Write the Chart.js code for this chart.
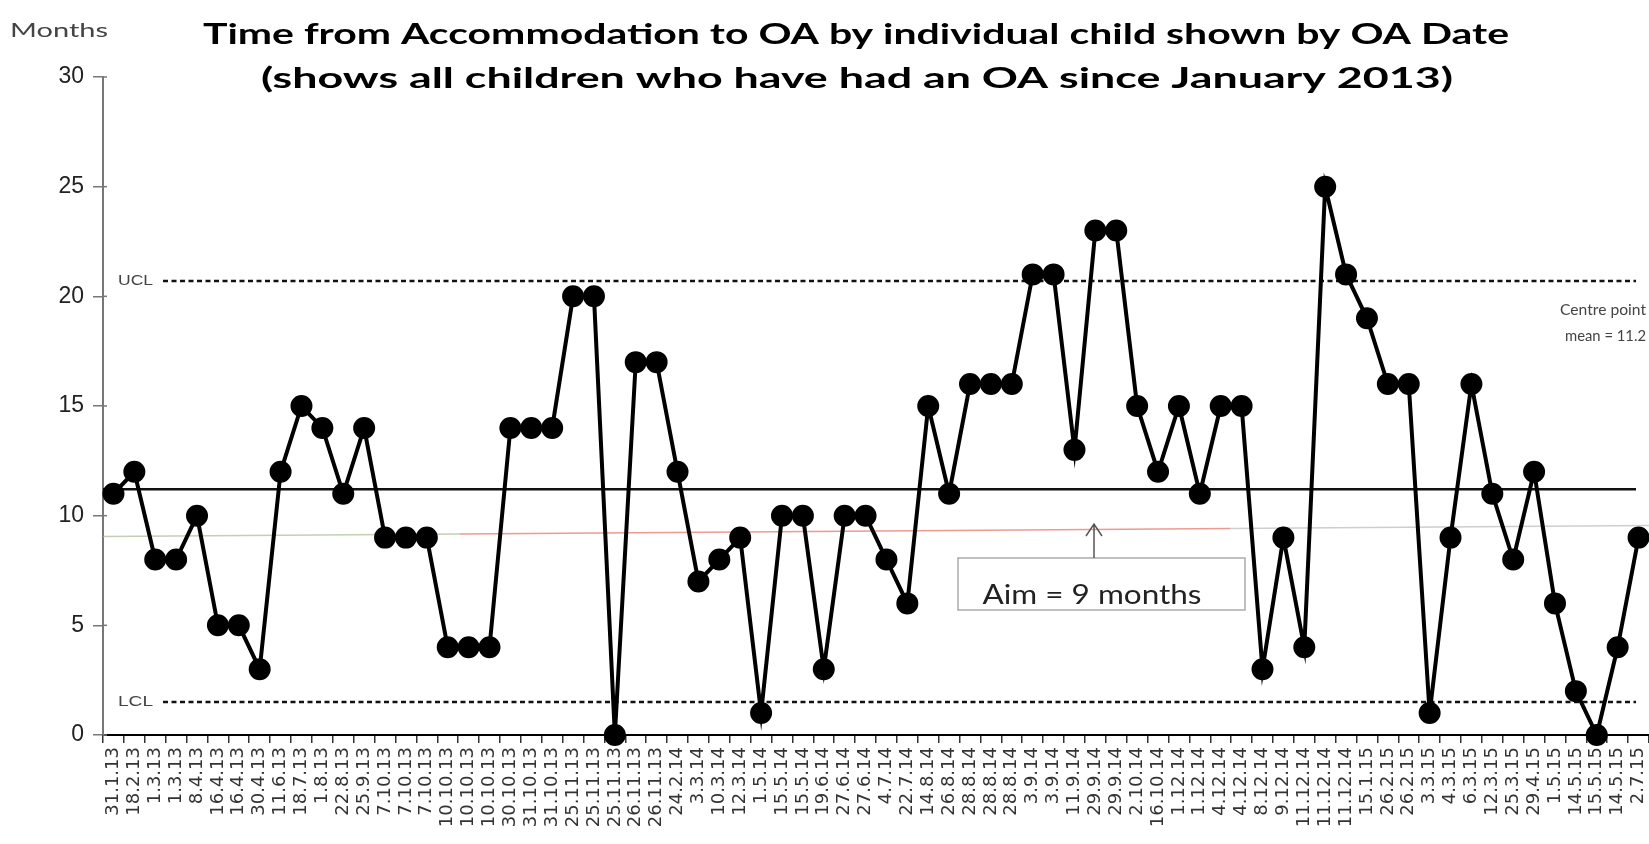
<!DOCTYPE html>
<html>
<head>
<meta charset="utf-8">
<script src="https://cdn.jsdelivr.net/npm/chart.js@4.4.1/dist/chart.umd.min.js"></script>
<style>
  html, body { margin: 0; padding: 0; background: #fff; overflow: hidden; }
  #wrap { position: relative; width: 1649px; height: 844px; }
</style>
</head>
<body>
<div id="wrap"><canvas id="c" width="1649" height="844"></canvas></div>
<script>
// OA dates (x categories), one per child
const oaDates = [
  "31.1.13", "18.2.13", "1.3.13", "1.3.13", "8.4.13", "16.4.13", "16.4.13", "30.4.13", "11.6.13", "18.7.13",
  "1.8.13", "22.8.13", "25.9.13", "7.10.13", "7.10.13", "7.10.13", "10.10.13", "10.10.13", "10.10.13", "30.10.13",
  "31.10.13", "31.10.13", "25.11.13", "25.11.13", "25.11.13", "26.11.13", "26.11.13", "24.2.14", "3.3.14", "10.3.14",
  "12.3.14", "1.5.14", "15.5.14", "15.5.14", "19.6.14", "27.6.14", "27.6.14", "4.7.14", "22.7.14", "14.8.14",
  "26.8.14", "28.8.14", "28.8.14", "28.8.14", "3.9.14", "3.9.14", "11.9.14", "29.9.14", "29.9.14", "2.10.14",
  "16.10.14", "1.12.14", "1.12.14", "4.12.14", "4.12.14", "8.12.14", "9.12.14", "11.12.14", "11.12.14", "11.12.14",
  "15.1.15", "26.2.15", "26.2.15", "3.3.15", "4.3.15", "6.3.15", "12.3.15", "25.3.15", "29.4.15", "1.5.15",
  "14.5.15", "15.5.15", "14.5.15", "2.7.15"
];

// months from accommodation to OA
const months = [
  11, 12, 8, 8, 10, 5, 5, 3, 12, 15,
  14, 11, 14, 9, 9, 9, 4, 4, 4, 14,
  14, 14, 20, 20, 0, 17, 17, 12, 7, 8,
  9, 1, 10, 10, 3, 10, 10, 8, 6, 15,
  11, 16, 16, 16, 21, 21, 13, 23, 23, 15,
  12, 15, 11, 15, 15, 3, 9, 4, 25, 21,
  19, 16, 16, 1, 9, 16, 11, 8, 12, 6,
  2, 0, 4, 9
];

const yTicks = [0, 5, 10, 15, 20, 25, 30];

// control limits
const meanValue = 11.2;
const uclValue = 20.7;
const lclValue = 1.5;
// aim line (hand drawn, slightly sloped in the original)
const aimStart = 9.05;
const aimEnd = 9.55;

const TITLE_1 = "Time from Accommodation to OA by individual child shown by OA Date";
const TITLE_2 = "(shows all children who have had an OA since January 2013)";

// 元画像は横に引き伸ばされているので、文字も横方向だけ伸ばす
function stretchText(ctx, text, x, y, width, align) {
  const w = ctx.measureText(text).width || 1;
  ctx.save();
  ctx.translate(x, y);
  ctx.scale(width / w, 1);
  ctx.textAlign = align || "center";
  ctx.fillText(text, 0, 0);
  ctx.restore();
}

// 補助線・注記（スケール経由で描画）
const overlay = {
  id: "overlay",
  beforeDatasetsDraw(chart) {
    const { ctx, chartArea: a, scales: { y } } = chart;
    const rightEnd = 1636;
    ctx.save();

    // aim line: green-grey / red / grey pieces
    const yA = y.getPixelForValue(aimStart);
    const yB = y.getPixelForValue(aimEnd);
    const yAt = x => yA + (yB - yA) * (x - a.left) / (a.right - a.left);
    const pieces = [
      [a.left, 460, "rgba(170,185,150,0.7)"],
      [460, 1230, "rgba(230,120,110,0.75)"],
      [1230, a.right, "rgba(185,185,185,0.7)"],
    ];
    ctx.lineWidth = 1.5;
    pieces.forEach(([x0, x1, col]) => {
      ctx.strokeStyle = col;
      ctx.beginPath();
      ctx.moveTo(x0, yAt(x0));
      ctx.lineTo(x1, yAt(x1));
      ctx.stroke();
    });

    // mean
    const yM = y.getPixelForValue(meanValue);
    ctx.strokeStyle = "#111";
    ctx.lineWidth = 2.5;
    ctx.beginPath();
    ctx.moveTo(a.left, yM);
    ctx.lineTo(rightEnd, yM);
    ctx.stroke();

    // UCL / LCL
    ctx.setLineDash([5, 3.5]);
    ctx.lineWidth = 2.5;
    [uclValue, lclValue].forEach(v => {
      const py = y.getPixelForValue(v);
      ctx.beginPath();
      ctx.moveTo(163, py);
      ctx.lineTo(rightEnd, py);
      ctx.stroke();
    });
    ctx.setLineDash([]);

    ctx.fillStyle = "#444";
    ctx.font = "14px 'Liberation Sans', Arial, sans-serif";
    ctx.textBaseline = "middle";
    stretchText(ctx, "UCL", 118, y.getPixelForValue(uclValue), 35, "left");
    stretchText(ctx, "LCL", 118, y.getPixelForValue(lclValue), 35, "left");

    // aim box + arrow
    ctx.strokeStyle = "#aaa";
    ctx.lineWidth = 1.5;
    ctx.strokeRect(958, 558, 287, 52);
    ctx.strokeStyle = "#555";
    ctx.lineWidth = 1.5;
    ctx.beginPath();
    ctx.moveTo(1094, 558);
    ctx.lineTo(1094, 524);
    ctx.moveTo(1086, 536);
    ctx.lineTo(1094, 524);
    ctx.lineTo(1102, 536);
    ctx.stroke();
    ctx.fillStyle = "#222";
    ctx.font = "26px Lato, 'Open Sans', sans-serif";
    stretchText(ctx, "Aim = 9 months", 1092, 596, 219, "center");

    // y tick marks crossing the axis a little
    ctx.strokeStyle = "#777";
    ctx.lineWidth = 1.5;
    yTicks.forEach(v => {
      const py = y.getPixelForValue(v);
      ctx.beginPath();
      ctx.moveTo(a.left, py);
      ctx.lineTo(a.left + 4, py);
      ctx.stroke();
    });

    ctx.restore();
  },
  afterDraw(chart) {
    const { ctx } = chart;
    ctx.save();
    ctx.fillStyle = "#000";
    ctx.textBaseline = "middle";
    ctx.font = "bold 29px Lato, 'Open Sans', sans-serif";
    stretchText(ctx, TITLE_1, 856, 35, 1306, "center");
    stretchText(ctx, TITLE_2, 857, 79, 1192, "center");

    ctx.fillStyle = "#444";
    ctx.font = "19px Lato, 'Open Sans', sans-serif";
    stretchText(ctx, "Months", 10, 31, 98, "left");

    ctx.font = "16px Lato, 'Open Sans', sans-serif";
    stretchText(ctx, "Centre point", 1646, 310, 86, "right");
    stretchText(ctx, "mean = 11.2", 1646, 336, 81, "right");
    ctx.restore();
  }
};

new Chart(document.getElementById("c"), {
  type: "line",
  data: {
    labels: oaDates,
    datasets: [{
      data: months,
      borderColor: "#000",
      backgroundColor: "#000",
      borderWidth: 4,
      pointRadius: 9,
      pointHoverRadius: 9,
      pointBackgroundColor: "#000",
      pointBorderColor: "#000",
      tension: 0,
      clip: false,
    }]
  },
  options: {
    responsive: false,
    animation: false,
    devicePixelRatio: 1,
    layout: { autoPadding: false, padding: { top: 77, left: 0, right: 0, bottom: 0 } },
    plugins: { legend: { display: false }, tooltip: { enabled: false }, title: { display: false } },
    scales: {
      x: {
        offset: true,
        afterFit: s => { s.height = 109; s.paddingLeft = 0; s.paddingRight = 0; },
        border: { color: "#000", width: 2 },
        grid: { drawOnChartArea: false, drawTicks: true, tickLength: 8, color: "#333", lineWidth: 1.5, offset: true },
        ticks: {
          autoSkip: false,
          maxRotation: 90,
          minRotation: 90,
          padding: 4,
          color: "#333",
          font: { family: "'DejaVu Sans', sans-serif", size: 18 },
        }
      },
      y: {
        min: 0,
        max: 30,
        afterFit: s => { s.width = 103; s.paddingTop = 0; s.paddingBottom = 0; },
        afterBuildTicks: s => { s.ticks = yTicks.map(v => ({ value: v })); },
        border: { color: "#777", width: 2 },
        grid: { drawOnChartArea: false, drawTicks: true, tickLength: 10, color: "#777", lineWidth: 1.5 },
        ticks: {
          padding: 9,
          color: "#222",
          font: { family: "'Liberation Sans', Arial, sans-serif", size: 23 },
        }
      }
    }
  },
  plugins: [overlay]
});
</script>
</body>
</html>
